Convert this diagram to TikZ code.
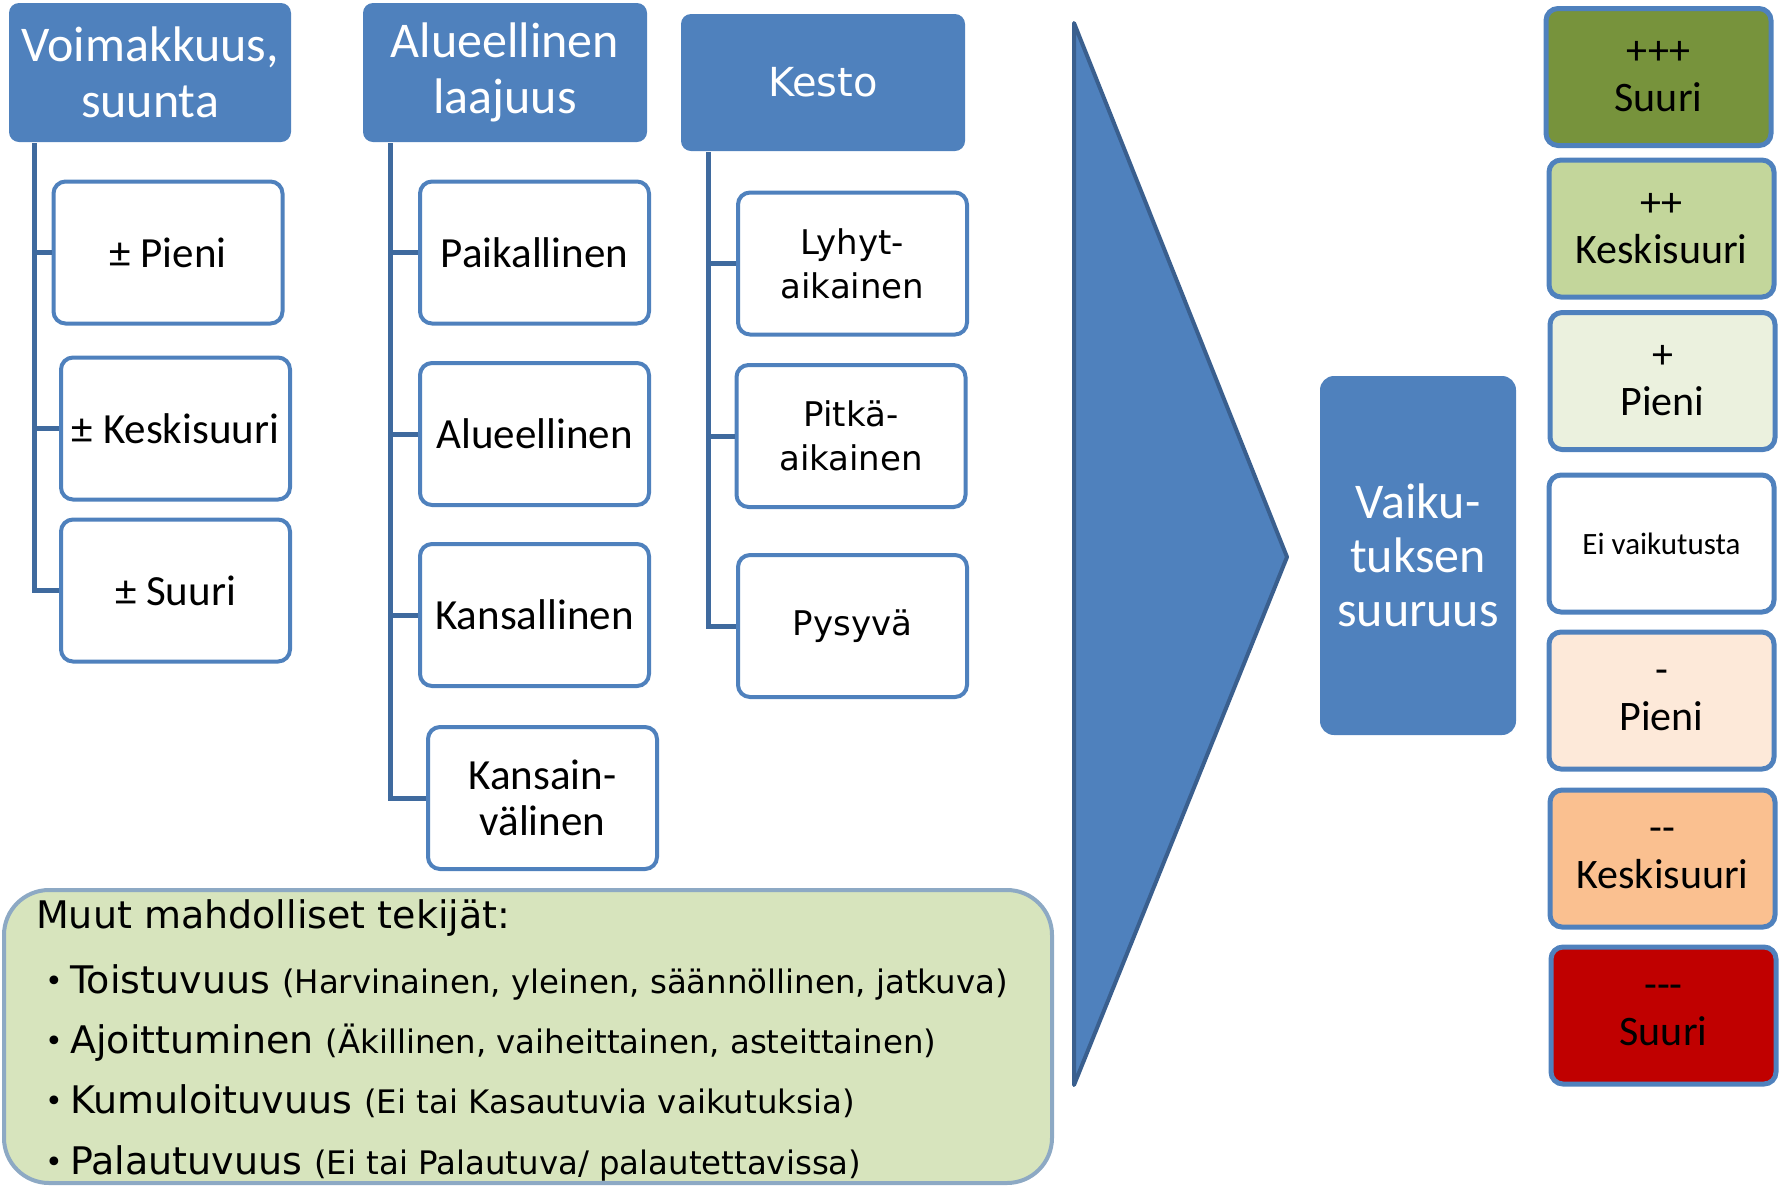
\documentclass[tikz,border=0pt]{standalone}
\usepackage{fontspec}
\setmainfont{Carlito}
\newfontfamily\verd{DejaVu Sans}
\definecolor{hblue}{HTML}{4F81BD}
\definecolor{bblue}{HTML}{4F81BD}
\definecolor{cline}{HTML}{3F6A9E}
\definecolor{aedge}{HTML}{3A5F8E}
\definecolor{gfill}{HTML}{D7E4BD}
\definecolor{gedge}{HTML}{8DA9C4}
\definecolor{c1}{HTML}{77933C}
\definecolor{c2}{HTML}{C3D69B}
\definecolor{c3}{HTML}{EBF1DE}
\definecolor{c5}{HTML}{FDE9D9}
\definecolor{c6}{HTML}{FAC090}
\definecolor{c7}{HTML}{C00000}
\begin{document}
\begin{tikzpicture}[x=1pt,y=-1pt,
  hdr/.style={fill=hblue, rounded corners=10pt, text=white, align=center, inner sep=0pt,
    font=\fontsize{50}{56}\selectfont},
  cbox/.style={draw=bblue, line width=4pt, fill=white, rounded corners=12pt, align=center,
    inner sep=0pt, minimum width=229pt, minimum height=142pt, font=\fontsize{43}{46}\selectfont},
  vbox/.style={cbox, font=\verd\fontsize{34}{44}\selectfont},
  rbox/.style={draw=bblue, line width=5pt, rounded corners=12pt, align=center, inner sep=0pt,
    minimum width=225pt, minimum height=137pt, font=\fontsize{42}{47}\selectfont},
  conn/.style={draw=cline, line width=5pt},
  item/.style={anchor=base west, inner sep=0pt, font=\verd\fontsize{38}{44}\selectfont},
  bul/.style={anchor=base, inner sep=0pt, font=\verd\fontsize{30}{34}\selectfont}
]
\path[use as bounding box] (0,0) rectangle (1781,1187);

% headers
\node[hdr, minimum width=282pt, minimum height=139pt] (h1) at (150,72.5) {Voimakkuus,\\suunta};
\node[hdr, minimum width=284pt, minimum height=139pt] (h2) at (505,72.5) {Alueellinen\\laajuus};
\node[hdr, minimum width=284pt, minimum height=137pt, font=\verd\fontsize{40}{48}\selectfont] (h3) at (823,82.5) {Kesto};

% column 1
\node[cbox] (p1) at (168,252.5) {± Pieni};
\node[cbox] (p2) at (175.5,428.5) {± Keskisuuri};
\node[cbox] (p3) at (175.5,590.5) {± Suuri};
% column 2
\node[cbox] (q1) at (534.5,252.5) {Paikallinen};
\node[cbox] (q2) at (534.5,434) {Alueellinen};
\node[cbox] (q3) at (534.5,615) {Kansallinen};
\node[cbox] (q4) at (542.5,798) {Kansain-\\välinen};
% column 3
\node[vbox] (r1) at (852.5,263.5) {Lyhyt-\\aikainen};
\node[vbox] (r2) at (851,436) {Pitkä-\\aikainen};
\node[vbox] (r3) at (852.5,626) {Pysyvä};

% connectors
\coordinate (v1) at (34,143);
\coordinate (v2) at (390,143);
\coordinate (v3) at (708,152);
\draw[conn] (v1) |- (p3.west);
\draw[conn] (v1 |- p1.west) -- (p1.west);
\draw[conn] (v1 |- p2.west) -- (p2.west);
\draw[conn] (v2) |- (q4.west);
\draw[conn] (v2 |- q1.west) -- (q1.west);
\draw[conn] (v2 |- q2.west) -- (q2.west);
\draw[conn] (v2 |- q3.west) -- (q3.west);
\draw[conn] (v3) |- (r3.west);
\draw[conn] (v3 |- r1.west) -- (r1.west);
\draw[conn] (v3 |- r2.west) -- (r2.west);

% big arrow
\coordinate (at) at (1074,23);
\coordinate (ap) at (1287,557);
\coordinate (ab) at (1074,1085);
\draw[fill=hblue, draw=aedge, line width=4pt, line join=round] (at) -- (ap) -- (ab) -- cycle;

% result box
\node[hdr, minimum width=196pt, minimum height=359pt, rounded corners=14pt,
  font=\fontsize{50}{54}\selectfont] (vs) at (1418,555.5) {Vaiku-\\tuksen\\suuruus};

% scale boxes
\node[rbox, fill=c1] (s1) at (1658.5,77) {+++\\Suuri};
\node[rbox, fill=c2] (s2) at (1661.5,228.5) {++\\Keskisuuri};
\node[rbox, fill=c3] (s3) at (1662.5,381) {+\\Pieni};
\node[rbox, fill=white, font=\fontsize{31}{36}\selectfont] (s4) at (1661.5,543.5) {Ei vaikutusta};
\node[rbox, fill=c5] (s5) at (1661.5,700.5) {-\\Pieni};
\node[rbox, fill=c6] (s6) at (1662.5,858.5) {-{}-\\Keskisuuri};
\node[rbox, fill=c7] (s7) at (1663.5,1015.5) {-{}-{}-\\Suuri};

% bottom box
\node[draw=gedge, fill=gfill, line width=4pt, rounded corners=45pt, inner sep=0pt,
  minimum width=1048pt, minimum height=293pt] (muut) at (528,1036.5) {};
\node[item] (t0) at (36,928) {Muut mahdolliset tekijät:};
\node[bul] (b1) at (54,991) {•};
\node[item] (t1) at (70,993) {Toistuvuus {\fontsize{32.4}{40}\selectfont(Harvinainen, yleinen, säännöllinen, jatkuva)}};
\node[bul] (b2) at (54,1051) {•};
\node[item] (t2) at (70,1053) {Ajoittuminen {\fontsize{32.4}{40}\selectfont(Äkillinen, vaiheittainen, asteittainen)}};
\node[bul] (b3) at (54,1111) {•};
\node[item] (t3) at (70,1113) {Kumuloituvuus {\fontsize{32.4}{40}\selectfont(Ei tai Kasautuvia vaikutuksia)}};
\node[bul] (b4) at (54,1172) {•};
\node[item] (t4) at (70,1174) {Palautuvuus {\fontsize{32.4}{40}\selectfont(Ei tai Palautuva/ palautettavissa)}};
\end{tikzpicture}
\end{document}
